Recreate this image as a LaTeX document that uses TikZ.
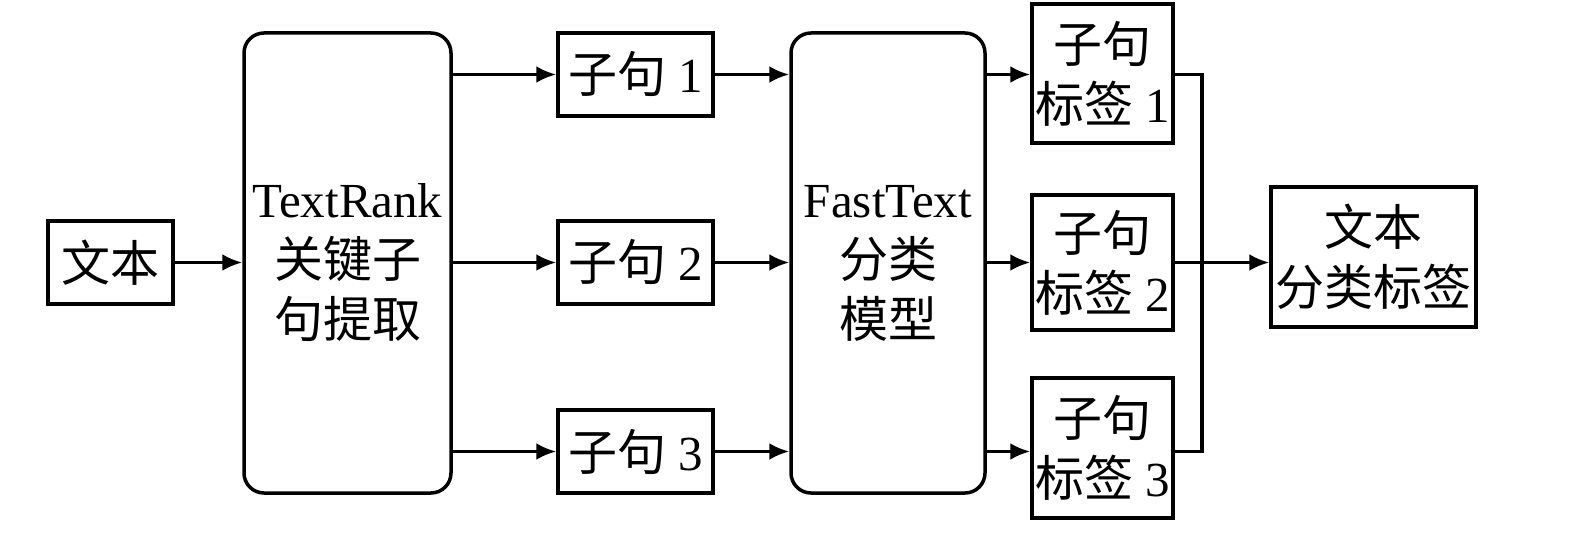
\documentclass[tikz,border=0pt]{standalone}
\usepackage{fontspec}
\setmainfont{Liberation Serif}
\newfontfamily\cjk{Noto Sans CJK SC}
\usetikzlibrary{arrows.meta}
\begin{document}
\begin{tikzpicture}[x=1pt,y=-1pt,
  box/.style={draw, line width=3.5pt, inner sep=0pt, align=center, font=\fontsize{49}{60}\selectfont},
  rbox/.style={box, rounded corners=20pt},
  arr/.style={line width=3.5pt, -{Latex[length=20pt,width=17pt]}},
  ln/.style={line width=3.5pt}]
\useasboundingbox (0,0) rectangle (1575,551);
\node[box, minimum width=125pt, minimum height=83pt] (t) at (110.5,262.5) {{\cjk 文本}};
\node[rbox, minimum width=207pt, minimum height=460pt] (tr) at (347.5,263) {TextRank\\{\cjk 关键子}\\{\cjk 句提取}};
\node[box, minimum width=155pt, minimum height=83pt] (s1) at (635.5,74.5) {{\cjk 子句} 1};
\node[box, minimum width=155pt, minimum height=83pt] (s2) at (635.5,262.5) {{\cjk 子句} 2};
\node[box, minimum width=155pt, minimum height=83pt] (s3) at (635.5,451.5) {{\cjk 子句} 3};
\node[rbox, minimum width=194pt, minimum height=460pt] (ft) at (888,263) {FastText\\{\cjk 分类}\\{\cjk 模型}};
\node[box, minimum width=141pt, minimum height=139pt] (l1) at (1102.5,73.5) {{\cjk 子句}\\{\cjk 标签} 1};
\node[box, minimum width=141pt, minimum height=135pt] (l2) at (1102.5,262.5) {{\cjk 子句}\\{\cjk 标签} 2};
\node[box, minimum width=141pt, minimum height=140pt] (l3) at (1102.5,448) {{\cjk 子句}\\{\cjk 标签} 3};
\node[box, minimum width=205pt, minimum height=140pt] (out) at (1373.5,257) {{\cjk 文本}\\{\cjk 分类标签}};
\coordinate (j) at (1202,262);
\draw[arr] (t) -- (t.east -| tr.west);
\foreach \i in {1,2,3}{
  \draw[arr] (tr.east |- s\i) -- (s\i);
  \draw[arr] (s\i) -- (ft.west |- s\i);
  \draw[arr] (ft.east |- s\i) -- (l\i.west |- s\i);
}
\draw[ln] (l1.east |- s1) -| (j) |- (l3.east |- s3);
\draw[arr] (l2) -- (out.west |- l2);
\end{tikzpicture}
\end{document}
